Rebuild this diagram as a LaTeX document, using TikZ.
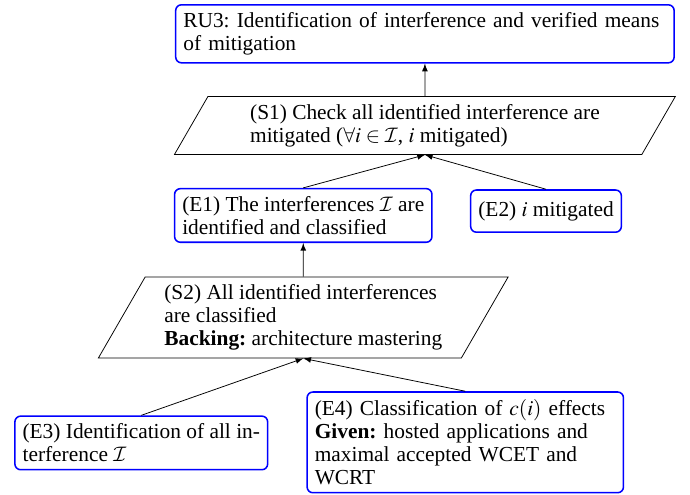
\documentclass[tikz,border=0pt]{standalone}
\usepackage{mathptmx}
\usepackage{fontspec}
\setmainfont{Liberation Serif}
\DeclareMathAlphabet{\mathcal}{OMS}{cmsy}{m}{n}
\usetikzlibrary{shapes.geometric}

\tikzset{
    >=latex,
    every node/.style={font=\fontsize{11.15}{12}\selectfont\frenchspacing},
    goal/.style={draw=blue, thick, rounded corners=3pt, align=left, inner sep=4pt},
    strat/.style={draw, trapezium, trapezium left angle=60, trapezium right angle=120,
        align=left, inner ysep=4pt},
}

\begin{document}
\begin{tikzpicture}
    \useasboundingbox (0,0) rectangle (12.65,9.06);
    % requirement on top
    \node[goal, text width=252pt] (ru3) at (7.79,8.44)
        {RU3: Identification of interference and verified means\\of mitigation};
    % strategies
    \node[strat, inner xsep=22pt] (s1) at (7.79,6.76)
        {(S1) Check all identified interference are\\mitigated ($\forall i\in\mathcal{I}$, $i$ mitigated)};
    \node[strat, inner xsep=10pt] (s2) at (5.56,3.24)
        {(S2) All identified interferences\\are classified\\\textbf{Backing:} architecture mastering};
    % evidences
    \node[goal] (e1) at (5.56,5.11) {(E1) The interferences $\mathcal{I}$ are\\identified and classified};
    \node[goal, minimum height=22pt] (e2) at (10.01,5.19) {(E2) $i$ mitigated};
    \node[goal] (e3) at (2.59,0.94) {(E3) Identification of all in-\\terference $\mathcal{I}$};
    \node[goal, text width=157pt] (e4) at (8.53,0.95)
        {(E4) Classification of $c(i)$ effects\\\textbf{Given:} hosted applications and\\maximal accepted WCET and\\WCRT};
    % support links
    \draw[->] (s1.north) -- (ru3.south);
    \draw[->] (e1.north) -- (s1.south);
    \draw[->] (e2.north) -- (s1.south);
    \draw[->] (s2.north) -- (e1.south);
    \draw[->] (e3.north) -- (s2.south);
    \draw[->] (e4.north) -- (s2.south);
\end{tikzpicture}
\end{document}
